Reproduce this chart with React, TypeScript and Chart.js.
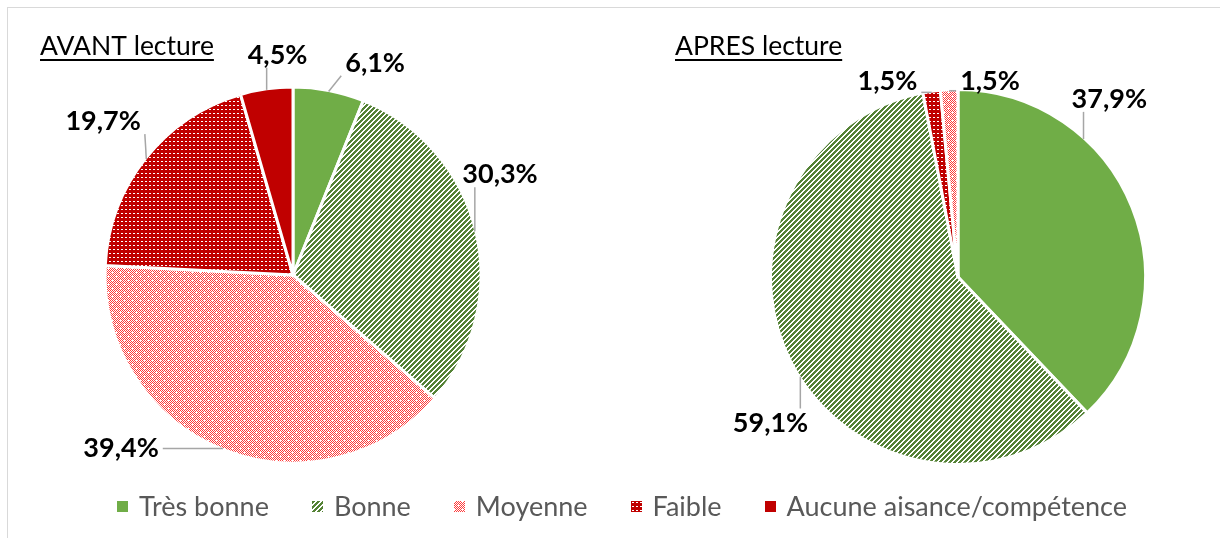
import React, { useEffect, useRef } from 'react';
import { Chart, registerables } from 'chart.js';

Chart.register(...registerables);

// ---------- data ----------
const categories = ['Très bonne', 'Bonne', 'Moyenne', 'Faible', 'Aucune aisance/compétence'];
const avantValues = [6.1, 30.3, 39.4, 19.7, 4.5];
const apresValues = [37.9, 59.1, 1.5, 1.5, 0];
// clockwise slice order (indices into categories), as drawn in each pie
const avantOrder = [0, 1, 2, 3, 4];
const apresOrder = [0, 1, 3, 2, 4];
const titles = ['AVANT lecture', 'APRES lecture'];

// ---------- styles ----------
const FONT = 'Lato, "Open Sans", sans-serif';
const LABEL_SIZE = 27;
const TITLE_SIZE = 26.5;
const LEGEND_SIZE = 27;

type Tile = HTMLCanvasElement;

function makeTile(size: number, paint: (ctx: CanvasRenderingContext2D) => void): Tile {
  const c = document.createElement('canvas');
  c.width = size;
  c.height = size;
  const ctx = c.getContext('2d')!;
  paint(ctx);
  return c;
}

let tileCache: (Tile | string)[] | null = null;
function getTiles(): (Tile | string)[] {
  if (tileCache) return tileCache;
  const stripes = makeTile(5, (ctx) => {
    ctx.fillStyle = '#ffffff';
    ctx.fillRect(0, 0, 5, 5);
    ctx.fillStyle = '#548235';
    for (let x = 0; x < 5; x++) for (let y = 0; y < 5; y++) if ((x + y) % 5 < 3) ctx.fillRect(x, y, 1, 1);
  });
  const checker = makeTile(8, (ctx) => {
    ctx.fillStyle = '#ffffff';
    ctx.fillRect(0, 0, 8, 8);
    ctx.fillStyle = '#FF3B3B';
    for (let x = 0; x < 8; x++)
      for (let y = 0; y < 8; y++) {
        if ((x + y) % 2 !== 0) continue;
        if ((x === 0 && y === 0) || (x === 4 && y === 4)) continue;
        ctx.fillRect(x, y, 1, 1);
      }
  });
  const dots = makeTile(4, (ctx) => {
    ctx.fillStyle = '#C00000';
    ctx.fillRect(0, 0, 4, 4);
    ctx.fillStyle = '#ffffff';
    ctx.fillRect(1, 1, 2, 1);
  });
  tileCache = ['#70AD47', stripes, checker, dots, '#C00000'];
  return tileCache;
}

function fillFor(ctx: CanvasRenderingContext2D, t: Tile | string): any {
  if (typeof t === 'string') return t;
  return ctx.createPattern(t, 'repeat');
}

type Placement = { frac: number; dx: number; dy: number } | null;
type Title = { text: string; x: number; y: number };

// ---------- label + title plugin (one per chart, closure-configured) ----------
function makeOutLabels(placements: Placement[], title: Title) {
  return {
    id: 'outLabels',
    afterDatasetsDraw(chart: any) {
      const ctx: CanvasRenderingContext2D = chart.ctx;
      const meta = chart.getDatasetMeta(0);
      const data = chart.data.datasets[0].data as number[];
      ctx.save();
      ctx.font = `bold ${LABEL_SIZE}px ${FONT}`;
      const capH = LABEL_SIZE * 0.72;
      const pad = 4;
      meta.data.forEach((arc: any, i: number) => {
        const v = data[i];
        const p = placements[i];
        if (!v || !p) return;
        const { x, y, startAngle, endAngle, outerRadius } = arc.getProps(
          ['x', 'y', 'startAngle', 'endAngle', 'outerRadius'],
          true
        );
        const a = startAngle + (endAngle - startAngle) * p.frac;
        const r = outerRadius - 1;
        const ax = x + r * Math.cos(a);
        const ay = y + r * Math.sin(a);
        const cx = ax + p.dx;
        const cy = ay + p.dy;
        const text = `${v.toFixed(1).replace('.', ',')}%`;
        const w = ctx.measureText(text).width;
        const bx1 = cx - w / 2 - pad;
        const bx2 = cx + w / 2 + pad;
        const by1 = cy - capH / 2 - pad;
        const by2 = cy + capH / 2 + pad;
        const nx = Math.min(Math.max(ax, bx1), bx2);
        const ny = Math.min(Math.max(ay, by1), by2);
        ctx.strokeStyle = '#A6A6A6';
        ctx.lineWidth = 1.5;
        ctx.beginPath();
        ctx.moveTo(ax, ay);
        ctx.lineTo(nx, ny);
        ctx.stroke();
        ctx.fillStyle = '#000000';
        ctx.textAlign = 'center';
        ctx.textBaseline = 'alphabetic';
        ctx.fillText(text, cx, cy + capH / 2);
      });
      ctx.font = `${TITLE_SIZE}px ${FONT}`;
      ctx.fillStyle = '#000000';
      ctx.textAlign = 'left';
      ctx.textBaseline = 'alphabetic';
      ctx.fillText(title.text, title.x, title.y);
      const tw = ctx.measureText(title.text).width;
      ctx.fillRect(title.x, title.y + 4, tw, 2);
      ctx.restore();
    },
  };
}

function makePie(
  canvas: HTMLCanvasElement,
  values: number[],
  order: number[],
  radius: number,
  placements: Placement[],
  title: Title
) {
  const ctx = canvas.getContext('2d')!;
  const tiles = getTiles();
  return new Chart(canvas, {
    type: 'pie',
    data: {
      labels: order.map((i) => categories[i]),
      datasets: [
        {
          data: order.map((i) => values[i]),
          backgroundColor: order.map((i) => fillFor(ctx, tiles[i])),
          borderColor: '#ffffff',
          borderWidth: 3,
        },
      ],
    },
    options: {
      responsive: false,
      animation: false,
      devicePixelRatio: 1,
      events: [],
      radius,
      layout: { padding: 0 },
      plugins: {
        legend: { display: false },
        tooltip: { enabled: false },
      },
    } as any,
    plugins: [makeOutLabels(placements, title) as any],
  });
}

// label placement: fraction along the slice for the rim anchor, and
// offset of the text centre from that anchor
const avantPlacements: Placement[] = [
  { frac: 0.5, dx: 46.5, dy: -29.4 },
  { frac: 0.5, dx: 25.2, dy: -57.9 },
  { frac: 0.5, dx: -102, dy: -0.9 },
  { frac: 0.5, dx: -43.2, dy: -38.6 },
  { frac: 0.5, dx: 10.9, dy: -35.9 },
];
const apresPlacements: Placement[] = [
  { frac: 0.31, dx: 25.8, dy: -40.9 },
  { frac: 0.476, dx: -29.8, dy: 45.6 },
  { frac: 0.5, dx: -44.3, dy: -12.4 },
  { frac: 0.5, dx: 40.8, dy: -10.7 },
  null,
];

function Legend() {
  const tiles = getTiles();
  return (
    <div
      style={{
        position: 'absolute',
        left: 0,
        width: 1244,
        top: 490,
        display: 'flex',
        justifyContent: 'center',
        alignItems: 'center',
        gap: 43,
        fontFamily: FONT,
        fontSize: LEGEND_SIZE,
        lineHeight: `${Math.round(LEGEND_SIZE * 1.2)}px`,
        color: '#595959',
        whiteSpace: 'nowrap',
      }}
    >
      {categories.map((c, i) => {
        const t = tiles[i];
        const bg =
          typeof t === 'string'
            ? { background: t }
            : { backgroundImage: `url(${t.toDataURL()})`, backgroundRepeat: 'repeat' };
        return (
          <div key={c} style={{ display: 'flex', alignItems: 'center' }}>
            <span style={{ display: 'inline-block', width: 11, height: 11, marginRight: 11, ...bg }} />
            <span>{c}</span>
          </div>
        );
      })}
    </div>
  );
}

export default function App() {
  const leftRef = useRef<HTMLCanvasElement>(null);
  const rightRef = useRef<HTMLCanvasElement>(null);
  useEffect(() => {
    const c1 = makePie(leftRef.current!, avantValues, avantOrder, 188, avantPlacements, {
      text: titles[0],
      x: 40,
      y: 55,
    });
    const c2 = makePie(rightRef.current!, apresValues, apresOrder, 187.5, apresPlacements, {
      text: titles[1],
      x: 35,
      y: 55,
    });
    return () => {
      c1.destroy();
      c2.destroy();
    };
  }, []);
  return (
    <div
      style={{
        position: 'fixed',
        left: 0,
        top: 0,
        width: 1220,
        height: 538,
        overflow: 'hidden',
        background: '#ffffff',
      }}
    >
      <div
        style={{
          position: 'absolute',
          left: 7,
          top: 7,
          width: 1400,
          height: 800,
          border: '1px solid #D9D9D9',
          boxSizing: 'border-box',
        }}
      />
      <canvas
        ref={leftRef}
        width={586}
        height={550}
        style={{ position: 'absolute', left: 0, top: 0, display: 'block' }}
      />
      <canvas
        ref={rightRef}
        width={636}
        height={554}
        style={{ position: 'absolute', left: 640, top: 0, display: 'block' }}
      />
      <Legend />
    </div>
  );
}
